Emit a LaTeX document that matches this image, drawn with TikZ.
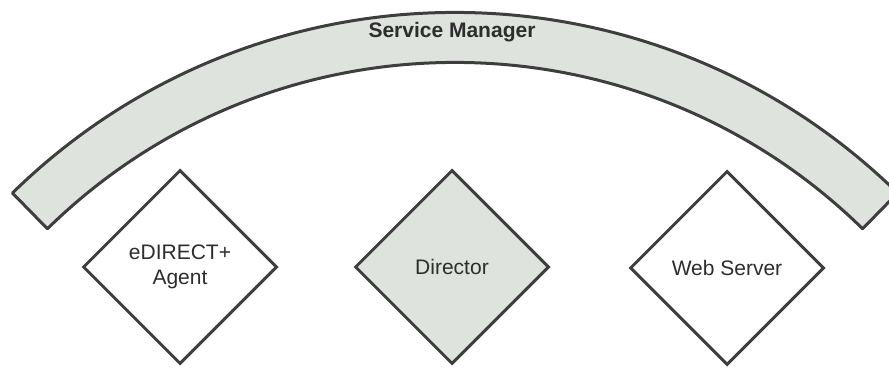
\documentclass[tikz,border=0pt]{standalone}
\usepackage{fontspec}
\setmainfont{Liberation Sans}
\usetikzlibrary{shapes.geometric}
\definecolor{edgegrey}{RGB}{62,62,62}
\definecolor{mgrfill}{RGB}{222,227,222}
\definecolor{inkgrey}{RGB}{45,45,45}

\begin{document}
\begin{tikzpicture}[x=1pt, y=1pt,
    unit/.style={diamond, draw=edgegrey, line width=3pt,
      minimum width=194pt, minimum height=194pt, inner sep=0pt,
      align=center, text=inkgrey,
      font=\fontsize{21}{25}\selectfont}]
  \useasboundingbox (0,0) rectangle (889,367);
  \clip (0,0) rectangle (889,367);
  % Service Manager band (part of a ring)
  \coordinate (hub) at (455,-278);
  \filldraw[fill=mgrfill, draw=edgegrey, line width=3pt, line join=round]
    (hub) ++(45.6:632.6) arc[start angle=45.6, end angle=134.4, radius=632.6]
    -- ++(-45.6:50) arc[start angle=134.4, end angle=45.6, radius=582.6]
    -- cycle;
  \node[text=inkgrey, font=\bfseries\fontsize{21}{25}\selectfont]
    (mgr) at (452,335) {Service Manager};
  % components under the manager
  \node[unit, fill=white] (agent) at (180,100) {eDIRECT+\\Agent};
  \node[unit, fill=mgrfill] (director) at (452,100) {Director};
  \node[unit, fill=white] (websrv) at (727,99) {Web Server};
\end{tikzpicture}
\end{document}
